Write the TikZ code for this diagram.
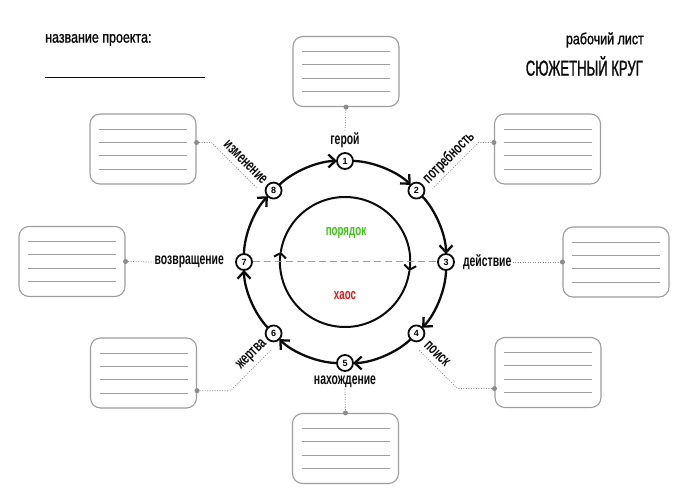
\documentclass[tikz,border=0pt]{standalone}
\usepackage{fontspec}
\setmainfont{Liberation Sans}[FakeStretch=0.65]
\newfontfamily\numfont{Liberation Sans}
\newfontfamily\headfont{Liberation Sans}[FakeStretch=0.78, FakeBold=1.2]
\newfontfamily\titlefont{Liberation Sans}[FakeStretch=0.61, FakeBold=1.2]
\usepackage{tikz}
\usetikzlibrary{arrows.meta, positioning, calc}
\definecolor{mydark}{RGB}{12,12,12}
\definecolor{mgframe}{RGB}{158,158,158}
\definecolor{mgdot}{RGB}{140,140,140}
\definecolor{mygreen}{RGB}{60,200,20}
\definecolor{myred}{RGB}{235,20,20}
\tikzset{
  notebox/.style={rectangle, draw=mgframe, fill=white,
    minimum width=106pt, minimum height=70pt,
    rounded corners=10pt, line width=1.1pt},
  noteline/.style={line width=0.9pt, color=mgframe},
  stepnode/.style={circle, draw=mydark, fill=white,
    minimum size=16pt, inner sep=0pt, line width=1.8pt,
    font=\numfont\bfseries\fontsize{9}{9}\selectfont},
  steplabel/.style={font=\bfseries\fontsize{16}{16}\selectfont,
    inner sep=1pt, color=mydark},
  headtext/.style={font=\headfont\fontsize{16}{16}\selectfont,
    inner sep=0pt, color=mydark},
  titletext/.style={font=\titlefont\fontsize{21.5}{21.5}\selectfont,
    inner sep=0pt, color=mydark},
  ring/.style={line width=2.3pt, color=mydark,
    -{Straight Barb[length=7pt,width=13pt]},
    shorten >=8pt, shorten <=8pt},
  innerring/.style={line width=2pt, color=mydark,
    -{Straight Barb[length=4.5pt,width=12pt]}},
  midline/.style={line width=1pt, color=mgframe, dash pattern=on 7pt off 4pt},
  leader/.style={line width=0.8pt, color=mgdot, dash pattern=on 1pt off 1.5pt},
  leaderdot/.style={fill=mgdot}
}

\begin{document}
\begin{tikzpicture}[x=1pt, y=1pt]
  % Page
  \fill[white] (0,0) rectangle (690,493);
  \useasboundingbox (0,0) rectangle (690,493);

  % Header
  \node[headtext, anchor=west] (projName) at (45,453) {название проекта:};
  \draw[line width=0.9pt, color=mydark] (45,416) -- (205,416);
  \node[headtext, anchor=east] (sheetName) at (644,453) {рабочий лист};
  \node[titletext, anchor=east] (sheetTitle) at (643,427) {СЮЖЕТНЫЙ КРУГ};

  % Centre of the circles
  \coordinate (c) at (345,231);

  % Inner circle
  \draw[innerring] ($(c)+(-8:65)$) arc[start angle=-8, end angle=-189, radius=65];
  \draw[innerring] ($(c)+(171:65)$) arc[start angle=171, end angle=-8, radius=65];
  \node[font=\bfseries\fontsize{15}{15}\selectfont, color=mygreen] (order) at (346,260) {порядок};
  \node[font=\bfseries\fontsize{15}{15}\selectfont, color=myred] (chaos) at (345,197) {хаос};

  % Steps on the outer circle
  \foreach \k in {1,...,8}
    \node[stepnode] (s\k) at ($(c)+({135-45*\k}:101)$) {\k};
  \draw[midline] (s7) -- (s3);
  \foreach \k in {1,...,8}
    \draw[ring] (s\k.center) arc[start angle={135-45*\k}, delta angle=-45, radius=101];

  % Step labels
  \node[steplabel, above=3pt of s1] (lHero) {герой};
  \node[steplabel, rotate=45, anchor=west] (lNeed) at ($(c)+(45:113)$) {потребность};
  \node[steplabel, right=7pt of s3] (lAct) {действие};
  \node[steplabel, rotate=-45, anchor=west] (lSearch) at ($(c)+(-45:114)$) {поиск};
  \node[steplabel, below=3pt of s5] (lFind) {нахождение};
  \node[steplabel, rotate=45, anchor=east] (lVictim) at ($(c)+(-135:112)$) {жертва};
  \node[steplabel, left=10pt of s7] (lReturn) {возвращение};
  \node[steplabel, rotate=-45, anchor=east] (lChange) at ($(c)+(135:112)$) {изменение};

  % Note boxes
  \node[notebox] (bT) at (346,421.5) {};
  \node[notebox] (bTL) at (143,344) {};
  \node[notebox] (bTR) at (547.5,344) {};
  \node[notebox] (bL) at (72,231.5) {};
  \node[notebox] (bR) at (616,231) {};
  \node[notebox] (bBL) at (143.5,120) {};
  \node[notebox] (bB) at (345.5,44.5) {};
  \node[notebox] (bBR) at (548,120.5) {};
  \foreach \b in {bT,bTL,bTR,bL,bR,bBL,bB,bBR}
    \foreach \dy in {20,6.7,-6.7,-20}
      \draw[noteline] ($(\b.center)+(-44,\dy)$) -- ++(88,0);

  % Leader elbows
  \coordinate (eTL) at ($(c)+(135:179)+(225:10)$);
  \coordinate (nTL) at ($(c)+(135:114)+(225:10)$);
  \coordinate (eTR) at ($(c)+(45:179)+(-45:10)$);
  \coordinate (nTR) at ($(c)+(45:114)+(-45:10)$);
  \coordinate (eBR) at ($(c)+(-45:169)+(225:10)$);
  \coordinate (nBR) at ($(c)+(-45:114)+(225:10)$);
  \coordinate (eBL) at ($(c)+(-135:172)+(-45:10)$);
  \coordinate (nBL) at ($(c)+(-135:114)+(-45:10)$);
  \coordinate (dTL) at (eTL -| bTL.east);
  \coordinate (dTR) at (eTR -| bTR.west);
  \coordinate (dBR) at (eBR -| bBR.west);
  \coordinate (dBL) at (eBL -| bBL.east);
  \coordinate (dT) at (bT.south);
  \coordinate (dB) at (bB.north);
  \coordinate (dL) at (bL.east);
  \coordinate (dR) at (bR.west);

  % Leaders
  \draw[leader] (dT) -- (lHero.north);
  \draw[leader] (lFind.south) -- (dB);
  \draw[leader] (dL) -- (lReturn.west);
  \draw[leader] (lAct.east) -- (dR);
  \draw[leader] (dTL) -- (eTL) -- (nTL);
  \draw[leader] (dTR) -- (eTR) -- (nTR);
  \draw[leader] (dBR) -- (eBR) -- (nBR);
  \draw[leader] (dBL) -- (eBL) -- (nBL);
  \foreach \d in {dT,dB,dL,dR,dTL,dTR,dBR,dBL}
    \fill[leaderdot] (\d) circle (2.5);
\end{tikzpicture}
\end{document}
